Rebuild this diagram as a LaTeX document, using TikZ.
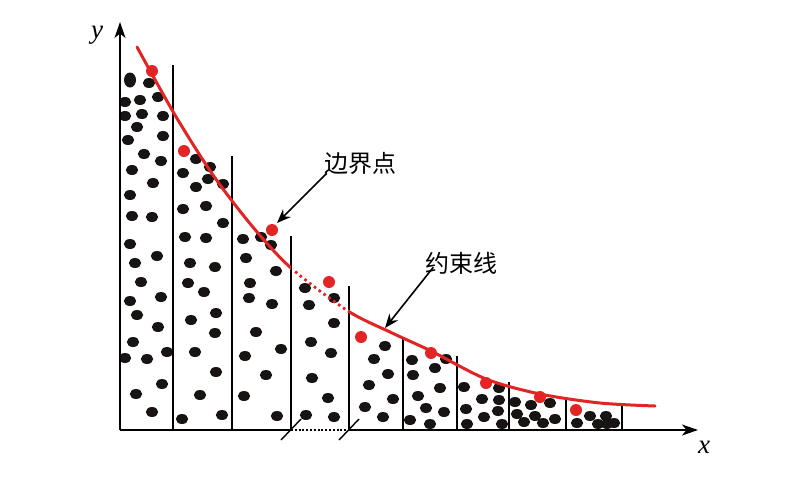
\documentclass[tikz,border=0pt]{standalone}
\usepackage{fontspec}
\newfontfamily\cjk{Noto Sans CJK SC}
\newfontfamily\axfont{Liberation Serif}
\usetikzlibrary{arrows.meta,calc}
\definecolor{redc}{RGB}{226,36,36}
\definecolor{dotc}{RGB}{24,20,20}
\tikzset{
  axisline/.style={line width=1.8pt, draw=black},
  axisarrow/.style={axisline, -{Stealth[length=16pt,width=11pt,inset=4.5pt]}},
  binline/.style={line width=1.4pt, draw=black},
  redline/.style={line width=3pt, draw=redc, line cap=round},
  reddotted/.style={line width=2.8pt, draw=redc, dash pattern=on 2.6pt off 3.4pt},
  axisdotted/.style={line width=2.2pt, draw=black, dash pattern=on 2pt off 1.8pt},
  annarrow/.style={line width=1.6pt, -{Stealth[length=14pt,width=11pt,inset=4.5pt]}},
  cjklabel/.style={font=\cjk\fontsize{24}{24}\selectfont, inner sep=0pt},
  axlabel/.style={font=\axfont\itshape\fontsize{27}{27}\selectfont, inner sep=0pt}
}
\begin{document}
\begin{tikzpicture}[x=1pt,y=-1pt]
\useasboundingbox (0,0) rectangle (800,480);
% black particles
\fill[dotc] (130,80) ellipse [x radius=6, y radius=7.5];
\foreach \px/\py in {149/83, 125/102, 140/100, 158/97, 125/116, 142/114, 163/116, 137/127, 163/136, 128/140, 144/154, 161/161, 132/170, 153/183, 130/195, 132/216, 152/217, 130/244, 157/256, 135/263, 141/282, 161/297, 130/301, 137/315, 158/327, 133/342, 125/358, 147/359, 167/352, 162/384, 136/394, 152/412,
 196/159, 210/167, 183/173, 208/179, 223/184, 196/187, 183/209, 206/206, 223/223, 185/237, 206/238, 190/263, 215/267, 188/283, 204/292, 216/313, 191/320, 215/333, 195/352, 216/372, 200/395, 182/419, 222/415,
 243/239, 261/237, 271/245, 246/258, 276/271, 250/283, 249/298, 272/304, 256/332, 281/349, 245/356, 266/375, 244/396, 277/416,
 305/288, 334/298, 309/305, 334/323, 311/342, 331/353, 312/378, 328/398, 306/415, 334/417,
 385/346, 374/359, 388/374, 369/385, 393/399, 365/407, 383/417,
 412/360, 446/359, 435/368, 413/375, 440/388, 418/396, 426/408, 444/412, 410/420, 430/424,
 464/387, 499/388, 482/399, 499/400, 466/409, 498/411, 484/417, 467/424, 502/424,
 515/402, 531/405, 550/403, 517/414, 535/416, 555/419, 524/422, 543/423,
 590/416, 606/416, 577/423, 598/424, 614/423, 607/424}
  \fill[dotc] (\px,\py) ellipse [x radius=6.2, y radius=5];
% bin lines
\foreach \bx/\by in {173/65, 232/156, 291/236, 349/286, 403/337, 457/356, 509/382, 566/400, 622/405}
  \draw[binline] (\bx,430) -- (\bx,\by);
% axes
\coordinate (O) at (120,430);
\coordinate (ytip) at (120,22);
\coordinate (xa) at (291,430);
\coordinate (xb) at (349,430);
\coordinate (xtip) at (698,430);
\draw[axisarrow] (O) -- (ytip);
\draw[axisline] (O) -- (xa);
\draw[axisdotted] (xa) -- (xb);
\draw[axisarrow] (xb) -- (xtip);
\draw[binline] (281,440) -- (301,419);
\draw[binline] (339,440) -- (359,419);
\node[axlabel] (ylab) at (97,35) {y};
\node[axlabel] (xlab) at (704,447) {x};
% red constraint line
\begin{scope}
\clip (0,0) rectangle (291,480);
\draw[redline] plot[smooth,tension=0.5] coordinates {(137,47) (175,115) (213,175) (252,226) (291,268) (348,311) (390,332) (431,351) (486,379) (540,394) (600,403) (655,406)};
\end{scope}
\begin{scope}
\clip (348,0) rectangle (800,480);
\draw[redline] plot[smooth,tension=0.5] coordinates {(137,47) (175,115) (213,175) (252,226) (291,268) (348,311) (390,332) (431,351) (486,379) (540,394) (600,403) (655,406)};
\end{scope}
\begin{scope}
\clip (293,0) rectangle (348,480);
\draw[reddotted] plot[smooth,tension=0.5] coordinates {(137,47) (175,115) (213,175) (252,226) (291,268) (348,311) (390,332) (431,351) (486,379) (540,394) (600,403) (655,406)};
\end{scope}
% boundary points
\foreach \rx/\ry in {152/71, 184/151, 272/230, 329/282, 361/337, 431/353, 486/383, 540/397, 576/410}
  \fill[redc] (\rx,\ry) circle [radius=6];
% labels and arrows
\node[cjklabel] (lab1) at (360,163) {边界点};
\node[cjklabel] (lab2) at (461.5,263) {约束线};
\coordinate (tip1) at (277,223);
\coordinate (tip2) at (385,328);
\draw[annarrow] ($(lab1.south west)+(3,-1)$) -- (tip1);
\draw[annarrow] ($(lab2.south west)+(8,-7)$) -- (tip2);
\end{tikzpicture}
\end{document}
